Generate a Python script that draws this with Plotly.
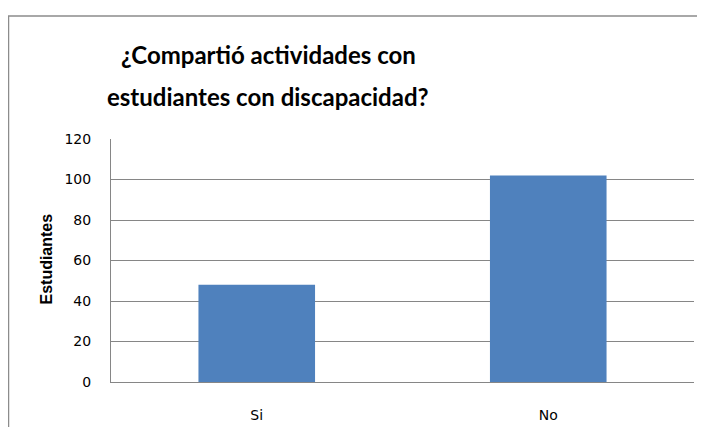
import plotly.graph_objects as go

# data
categories = ['Si', 'No']
students = [48, 102]
y_ticks = [0, 20, 40, 60, 80, 100, 120]

title_line1 = '¿Compartió actividades con'
title_line2 = 'estudiantes con discapacidad?'
y_title = 'Estudiantes'

# the html page puts the figure 8px in from the top-left corner,
# so every pixel position taken from the reference is shifted back by OFF
OFF = 8
W, H = 705, 427
L, T = 111 - OFF, 139 - OFF
R, B = W - (694 - OFF), H - (387 - OFF)
pw, ph = W - L - R, H - T - B


def px_x(x):
    return (x - OFF - L) / pw


def px_y(y):
    return (H - B - (y - OFF)) / ph


fig = go.Figure(data=[
    go.Bar(
        x=categories,
        y=students,
        marker_color='#4F81BD',
        marker_line_width=0,
        hoverinfo='x+y',
    )
])

fig.update_layout(
    width=W,
    height=H,
    margin=dict(l=L, r=R, t=T, b=B, pad=0),
    paper_bgcolor='white',
    plot_bgcolor='white',
    showlegend=False,
    bargap=0.6,
    font=dict(family='DejaVu Sans', size=14, color='#000000'),
)

fig.update_xaxes(
    showgrid=False,
    showline=True,
    linecolor='#868686',
    linewidth=1,
    ticks='',
    ticklabelstandoff=20,
    tickfont=dict(family='DejaVu Sans', size=14, color='#000000'),
)

fig.update_yaxes(
    range=[0, 120],
    tickvals=y_ticks,
    showgrid=True,
    gridcolor='#868686',
    gridwidth=1,
    showline=True,
    linecolor='#868686',
    linewidth=1,
    ticks='',
    ticklabelstandoff=16,
    zeroline=False,
    tickfont=dict(family='DejaVu Sans', size=14, color='#000000'),
)

title_font = dict(family='Lato', size=24, color='#000000', weight='bold')
fig.add_annotation(text=title_line1, xref='paper', yref='paper',
                   x=px_x(268), y=px_y(53), xanchor='center', yanchor='middle',
                   showarrow=False, font=title_font)
fig.add_annotation(text=title_line2, xref='paper', yref='paper',
                   x=px_x(268), y=px_y(96), xanchor='center', yanchor='middle',
                   showarrow=False, font=title_font)

fig.add_annotation(text=y_title, xref='paper', yref='paper',
                   x=px_x(47), y=px_y(262), xanchor='center', yanchor='middle',
                   textangle=-90, showarrow=False,
                   font=dict(family='Liberation Sans', size=16, color='#000000',
                             weight='bold'))

# outer chart border (runs past the right and bottom edges of the picture)
fig.add_shape(type='rect', xref='paper', yref='paper',
              x0=px_x(8.5), x1=px_x(760), y0=px_y(480), y1=px_y(13.5),
              line=dict(color='#8C8C8C', width=1.5), fillcolor='rgba(0,0,0,0)',
              layer='below')

fig.write_html('out.html')
